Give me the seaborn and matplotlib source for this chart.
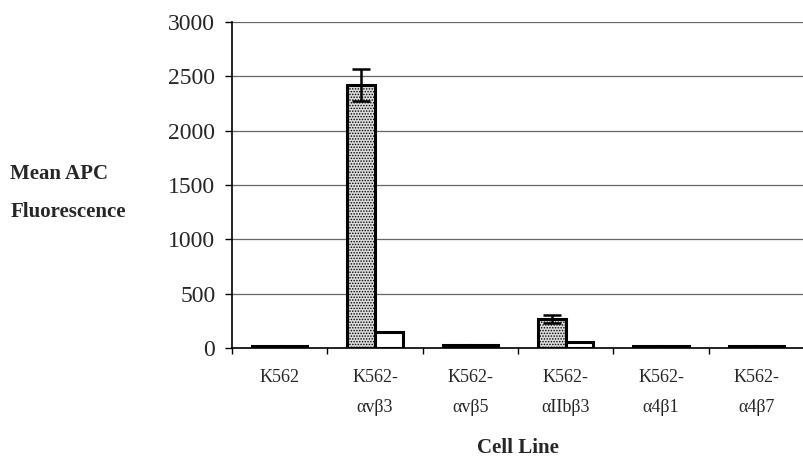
import matplotlib
matplotlib.use("Agg")
import matplotlib.pyplot as plt
import seaborn as sns
import pandas as pd
import numpy as np

cell_lines = ["K562", "K562-\nαvβ3", "K562-\nαvβ5", "K562-\nαIIbβ3", "K562-\nα4β1", "K562-\nα4β7"]
antibody_values = [15, 2420, 30, 270, 15, 20]
antibody_errors = [0, 150, 0, 38, 0, 0]
control_values = [15, 150, 30, 55, 15, 20]
control_errors = [0, 0, 0, 0, 0, 0]
series_names = ["Antibody", "Control"]
y_ticks = [0, 500, 1000, 1500, 2000, 2500, 3000]

df = pd.DataFrame({
    "Cell Line": cell_lines * 2,
    "Mean": antibody_values + control_values,
    "Series": [series_names[0]] * len(cell_lines) + [series_names[1]] * len(cell_lines),
})

sns.set_theme(style="white")
plt.rcParams["font.family"] = ["Liberation Serif", "DejaVu Serif"]
plt.rcParams["hatch.color"] = "#9a9a9a"
plt.rcParams["hatch.linewidth"] = 0.7

fig = plt.figure(figsize=(8.04, 4.62), dpi=100)
ax = fig.add_axes([0.2886, 0.2468, 0.7114, 0.7056])

sns.barplot(data=df, x="Cell Line", y="Mean", hue="Series", order=cell_lines,
            hue_order=series_names, palette=["#dcdcdc", "white"], width=0.58,
            gap=0, errorbar=None, legend=False, ax=ax, zorder=3)

# style bars and add error bars from the drawn positions
bar_containers = list(ax.containers)
errs = [antibody_errors, control_errors]
for ci, cont in enumerate(bar_containers):
    for bi, bar in enumerate(cont.patches):
        bar.set_edgecolor("black")
        bar.set_linewidth(2.2)
        if ci == 0:
            bar.set_hatch("......")
        e = errs[ci][bi]
        if e > 0:
            xc = bar.get_x() + bar.get_width() / 2
            ax.errorbar(xc, bar.get_height(), yerr=e, fmt="none", ecolor="black",
                        elinewidth=1.8, capsize=6.5, capthick=1.8, zorder=4)

ax.set_ylim(0, 3000)
ax.set_xlim(-0.5, len(cell_lines) - 0.5)
ax.set_yticks(y_ticks)
ax.set_yticklabels([str(v) for v in y_ticks], fontsize=17)
ax.yaxis.grid(True, color="#666666", linewidth=0.9, zorder=0)
ax.set_axisbelow(True)

for side in ["top", "right"]:
    ax.spines[side].set_visible(False)
ax.spines["left"].set_color("black")
ax.spines["left"].set_linewidth(1.2)
ax.spines["bottom"].set_color("black")
ax.spines["bottom"].set_linewidth(1.2)

ax.tick_params(axis="y", left=True, length=5, width=1, color="black", pad=7)
ax.tick_params(axis="x", bottom=False, pad=9)
ax.set_xticks(range(len(cell_lines)))
ax.set_xticklabels(cell_lines, fontsize=13, linespacing=2.0)
ax.set_xticks(np.arange(-0.5, len(cell_lines) + 0.5, 1.0), minor=True)
ax.tick_params(axis="x", which="minor", bottom=True, length=4, width=1, color="black")

ax.set_xlabel("Cell Line", fontsize=15, fontweight="bold", labelpad=16)
ax.set_ylabel("")
fig.text(0.013, 0.623, "Mean APC", fontsize=15, fontweight="bold", ha="left", va="center")
fig.text(0.013, 0.541, "Fluorescence", fontsize=15, fontweight="bold", ha="left", va="center")

fig.savefig("out.png", dpi=100)
